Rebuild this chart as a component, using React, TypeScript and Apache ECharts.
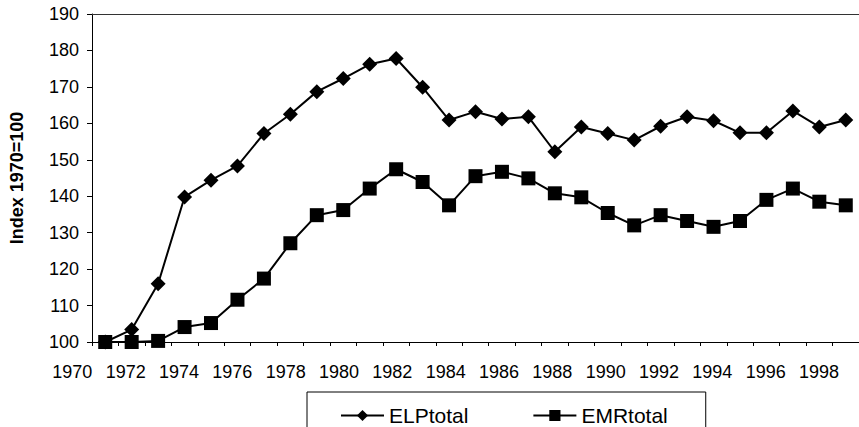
import React, { useEffect, useRef } from "react";
import * as echarts from "echarts";

const labelYears = ["1970","1971","1972","1973","1974","1975","1976","1977","1978","1979","1980","1981","1982","1983","1984","1985","1986","1987","1988","1989","1990","1991","1992","1993","1994","1995","1996","1997","1998","1999"];
const plotYears = labelYears.slice(1);
const elpTotal = [100, 103.4, 116.0, 139.8, 144.4, 148.3, 157.2, 162.5, 168.7, 172.3, 176.2, 177.8, 169.9, 160.9, 163.2, 161.2, 161.8, 152.2, 159.0, 157.2, 155.4, 159.2, 161.8, 160.7, 157.4, 157.4, 163.4, 159.0, 160.9];
const emrTotal = [100, 100, 100.3, 104.1, 105.2, 111.6, 117.4, 127.1, 134.8, 136.2, 142.1, 147.4, 143.9, 137.5, 145.5, 146.7, 144.9, 140.8, 139.7, 135.4, 132.0, 134.8, 133.2, 131.6, 133.2, 139.0, 142.1, 138.5, 137.5];
const yMin = 100;
const yMax = 190;
const yStep = 10;

const FONT = "'Liberation Sans', Arial, sans-serif";

export default function App() {
  const ref = useRef<HTMLDivElement>(null);
  useEffect(() => {
    if (!ref.current) return;
    const chart = echarts.init(ref.current, null, { renderer: "svg" });
    chart.setOption({
      animation: false,
      backgroundColor: "#ffffff",
      textStyle: { fontFamily: FONT, color: "#000" },
      grid: [
        { left: 59, top: 14, width: 811, height: 328 },
        { left: 86, top: 14, width: 784, height: 328 },
      ],
      legend: {
        data: ["ELPtotal", "EMRtotal"],
        left: 307,
        top: 392,
        orient: "horizontal",
        borderColor: "#000",
        borderWidth: 1,
        padding: [13, 38, 30, 33],
        itemWidth: 43,
        itemHeight: 14,
        itemGap: 64,
        textStyle: { fontSize: 21, color: "#000", fontFamily: FONT },
      },
      xAxis: [
        {
          gridIndex: 0,
          type: "category",
          data: labelYears,
          boundaryGap: true,
          axisLine: { show: false },
          axisTick: { show: false },
          axisLabel: { interval: 1, fontSize: 18, color: "#000", margin: 21, fontFamily: FONT },
        },
        {
          gridIndex: 1,
          type: "category",
          data: plotYears,
          boundaryGap: true,
          position: "bottom",
          axisLine: { show: true, lineStyle: { color: "#000", width: 1 } },
          axisTick: { show: true, interval: 0, length: 4, lineStyle: { color: "#000" } },
          axisLabel: { show: false },
        },
        {
          gridIndex: 1,
          type: "category",
          data: plotYears,
          boundaryGap: true,
          position: "top",
          axisLine: { show: true, lineStyle: { color: "#333", width: 1 } },
          axisTick: { show: false },
          axisLabel: { show: false },
        },
      ],
      yAxis: [
        { gridIndex: 0, type: "value", min: yMin, max: yMax, show: false, splitLine: { show: false } },
        {
          gridIndex: 1,
          type: "value",
          min: yMin,
          max: yMax,
          interval: yStep,
          name: "Index 1970=100",
          nameLocation: "middle",
          nameGap: 66,
          nameTextStyle: { fontSize: 18, fontWeight: "bold", color: "#000", fontFamily: FONT },
          axisLine: { show: true, lineStyle: { color: "#000", width: 1 } },
          axisTick: { show: true, length: 5, lineStyle: { color: "#000" } },
          axisLabel: { fontSize: 18, color: "#000", margin: 13, fontFamily: FONT },
          splitLine: { show: false },
        },
      ],
      series: [
        {
          name: "ELPtotal",
          type: "line",
          xAxisIndex: 1,
          yAxisIndex: 1,
          data: elpTotal,
          symbol: "diamond",
          symbolSize: 15,
          itemStyle: { color: "#000" },
          lineStyle: { color: "#000", width: 2 },
        },
        {
          name: "EMRtotal",
          type: "line",
          xAxisIndex: 1,
          yAxisIndex: 1,
          data: emrTotal,
          symbol: "rect",
          symbolSize: 14,
          itemStyle: { color: "#000" },
          lineStyle: { color: "#000", width: 2 },
        },
      ],
    });
    return () => chart.dispose();
  }, []);
  return (
    <div style={{ position: "absolute", left: 0, top: 0, width: 859, height: 427, overflow: "hidden", background: "#fff" }}>
      <div ref={ref} style={{ width: 859, height: 427 }} />
    </div>
  );
}
